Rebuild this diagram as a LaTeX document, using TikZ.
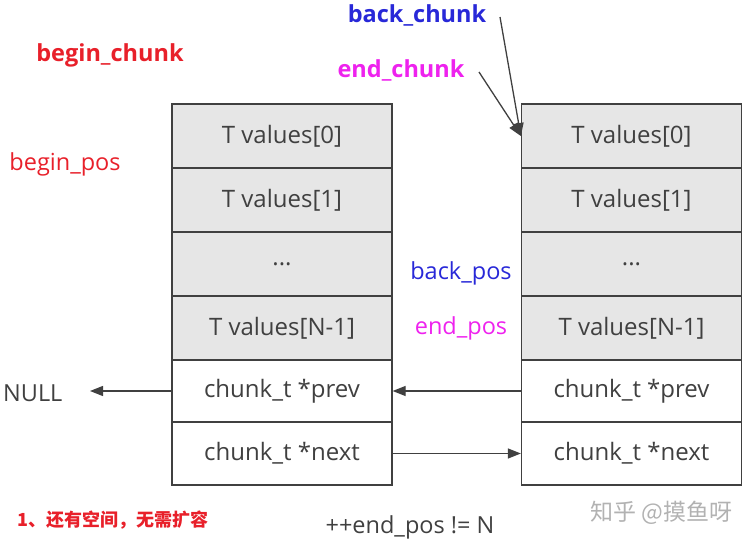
\documentclass[tikz,border=0pt]{standalone}
\usepackage{fontspec}
\setmainfont{Open Sans}
\newfontfamily\cjk{Noto Sans CJK SC}
\usetikzlibrary{arrows.meta}
\definecolor{cellfill}{HTML}{E6E6E6}
\definecolor{linegray}{HTML}{404040}
\definecolor{txtgray}{HTML}{404040}
\definecolor{myred}{HTML}{E8202A}
\definecolor{myblue}{HTML}{2828D8}
\definecolor{mymag}{HTML}{EE22EE}
\tikzset{
  cell/.style={draw=linegray, line width=1.3pt, minimum width=220pt, minimum height=64pt,
    inner sep=0pt, text=txtgray, font=\fontsize{24}{28}\selectfont},
  datacell/.style={cell, fill=cellfill},
  ptrcell/.style={cell, fill=white, minimum height=62pt},
  conn/.style={draw=linegray, line width=1.3pt, -{Triangle[length=13pt,width=10pt]}},
  lbl/.style={inner sep=0pt, font=\fontsize{23.5}{28}\selectfont},
  blbl/.style={inner sep=0pt, font=\fontsize{23.5}{28}\selectfont\bfseries},
}
\begin{document}
\begin{tikzpicture}[x=1pt,y=-1pt]
\useasboundingbox (0,0) rectangle (750,544);
% left chunk
\node[datacell] (L0) at (282,136) {T values[0]};
\node[datacell] (L1) at (282,200) {T values[1]};
\node[datacell] (L2) at (282,264) {...};
\node[datacell] (L3) at (282,328) {T values[N-1]};
\node[ptrcell]  (L4) at (282,391) {chunk\_t *prev};
\node[ptrcell, minimum height=63pt] (L5) at (282,453.5) {chunk\_t *next};
% right chunk
\node[datacell] (R0) at (631.5,136) {T values[0]};
\node[datacell] (R1) at (631.5,200) {T values[1]};
\node[datacell] (R2) at (631.5,264) {...};
\node[datacell] (R3) at (631.5,328) {T values[N-1]};
\node[ptrcell]  (R4) at (631.5,391) {chunk\_t *prev};
\node[ptrcell, minimum height=63pt] (R5) at (631.5,453.5) {chunk\_t *next};
% labels
\node[blbl, text=myred] (bc) at (110,55) {begin\_chunk};
\node[blbl, text=myblue] (kc) at (417,15) {back\_chunk};
\node[blbl, text=mymag] (ec) at (401,70) {end\_chunk};
\node[lbl, text=myred] (bp) at (65,164) {begin\_pos};
\node[lbl, text=myblue] (kp) at (461,273) {back\_pos};
\node[lbl, text=mymag] (ep) at (461,328) {end\_pos};
\node[lbl, text=txtgray, anchor=west] (null) at (3,393) {NULL};
\node[lbl, text=txtgray] (cond) at (410,527) {++end\_pos != N};
\node[inner sep=0pt, anchor=west, text=myred, font=\cjk\fontsize{18}{21}\selectfont\bfseries] (note) at (17,520) {1、还有空间，无需扩容};
\node[inner sep=0pt, anchor=west, text=black!30, font=\cjk\fontsize{23}{26}\selectfont] (wm) at (590,513) {知乎 @摸鱼呀};
% connectors
\coordinate (kcS) at (500,17);
\coordinate (ecS) at (479,72);
\coordinate (nullE) at (90,391);
\draw[conn] (kcS) -- (R0.west);
\draw[conn] (ecS) -- (R0.west);
\draw[conn] (L4.west) -- (nullE);
\draw[conn] (R4.west) -- (L4.east);
\draw[conn] (L5.east) -- (R5.west);
\end{tikzpicture}
\end{document}
